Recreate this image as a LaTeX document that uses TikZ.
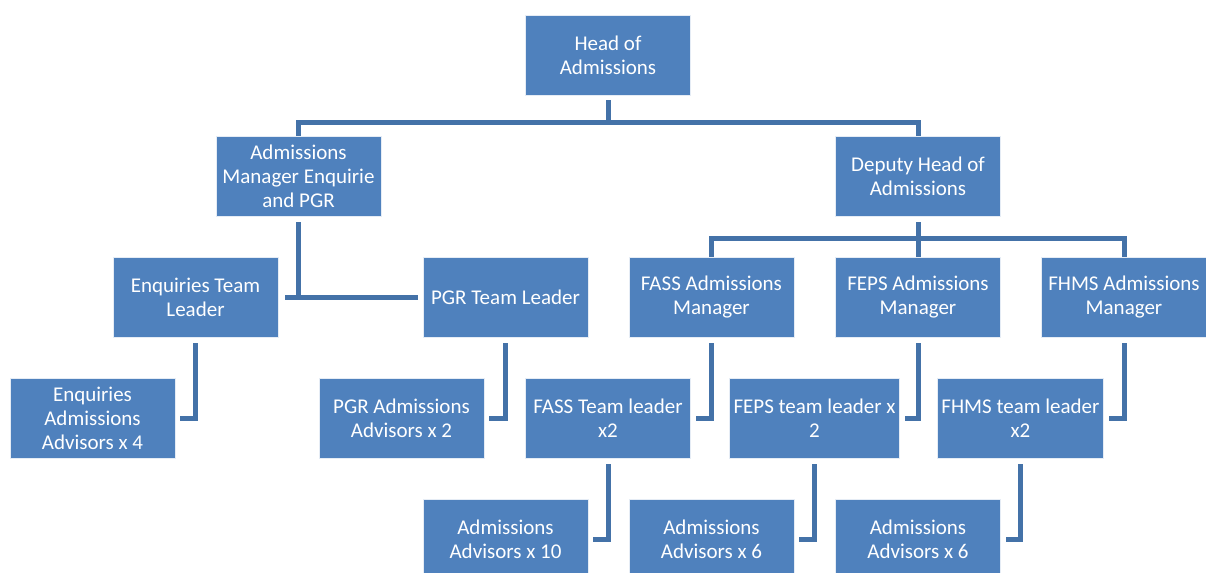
\documentclass[tikz,border=0pt]{standalone}
\usepackage{fontspec}
\setmainfont{Carlito}
\usepackage{tikz}
\usetikzlibrary{positioning, calc}
\definecolor{boxblue}{RGB}{79, 129, 189}
\definecolor{lineblue}{RGB}{68, 114, 168}
\tikzset{
  unit/.style={draw=white!85!boxblue, line width=0.4pt, fill=boxblue, text=white,
    align=center, minimum width=82.5pt, minimum height=40pt, inner sep=2pt,
    font=\fontsize{10.5}{12}\selectfont},
  link/.style={draw=lineblue, line width=2.5pt, line join=miter}
}

\begin{document}
\begin{tikzpicture}[x=0.5pt, y=-0.5pt]
  \useasboundingbox (0,0) rectangle (1206,573);

  % top levels
  \node[unit] (head) at (608,55) {Head of\\Admissions};
  \node[unit] (mgr) at (298.5,176) {Admissions\\Manager Enquirie\\and PGR};
  \node[unit] (dep) at (918,176) {Deputy Head of\\Admissions};

  % team leaders and managers
  \node[unit] (etl) at (195.5,297) {Enquiries Team\\Leader};
  \node[unit] (pgrtl) at (505.5,297) {PGR Team Leader};
  \node[unit] (fassm) at (711.5,297) {FASS Admissions\\Manager};
  \node[unit] (fepsm) at (918,297) {FEPS Admissions\\Manager};
  \node[unit] (fhmsm) at (1124,297) {FHMS Admissions\\Manager};

  % fourth row
  \node[unit] (eadv) at (92.5,418) {Enquiries\\Admissions\\Advisors x 4};
  \node[unit] (padv) at (401.5,418) {PGR Admissions\\Advisors x 2};
  \node[unit] (fasstl) at (608,418) {FASS Team leader\\x2};
  \node[unit] (fepstl) at (814.5,418) {FEPS team leader x\\2};
  \node[unit] (fhmstl) at (1020.5,418) {FHMS team leader\\x2};

  % advisors
  \node[unit] (fassadv) at (505.5,539) {Admissions\\Advisors x 10};
  \node[unit] (fepsadv) at (711.5,539) {Admissions\\Advisors x 6};
  \node[unit] (fhmsadv) at (918,539) {Admissions\\Advisors x 6};

  % head branches
  \draw[link] ([yshift=-2.5pt]head.south) -- ++(0,-11pt) -| (mgr.north);
  \draw[link] ([yshift=-2.5pt]head.south) -- ++(0,-11pt) -| (dep.north);

  % enquiries and pgr
  \draw[link] ([yshift=-3pt]mgr.south) -- (mgr.south |- etl.east);
  \draw[link] ([xshift=3.5pt]etl.east) -- ([xshift=-2.5pt]pgrtl.west);

  % deputy branches
  \draw[link] ([yshift=-3pt]dep.south) -- ++(0,-8pt) -| (fassm.north);
  \draw[link] ([yshift=-3pt]dep.south) -- ++(0,-8pt) -| (fepsm.north);
  \draw[link] ([yshift=-3pt]dep.south) -- ++(0,-8pt) -| (fhmsm.north);

  % elbows down to the left
  \draw[link] ([yshift=-3pt]etl.south) |- ([xshift=2.5pt]eadv.east);
  \draw[link] ([yshift=-3pt]pgrtl.south) |- ([xshift=2.5pt]padv.east);
  \draw[link] ([yshift=-3pt]fassm.south) |- ([xshift=2.5pt]fasstl.east);
  \draw[link] ([yshift=-3pt]fepsm.south) |- ([xshift=2.5pt]fepstl.east);
  \draw[link] ([yshift=-3pt]fhmsm.south) |- ([xshift=2.5pt]fhmstl.east);
  \draw[link] ([yshift=-3pt]fasstl.south) |- ([xshift=2.5pt]fassadv.east);
  \draw[link] ([yshift=-3pt]fepstl.south) |- ([xshift=2.5pt]fepsadv.east);
  \draw[link] ([yshift=-3pt]fhmstl.south) |- ([xshift=2.5pt]fhmsadv.east);

\end{tikzpicture}
\end{document}
